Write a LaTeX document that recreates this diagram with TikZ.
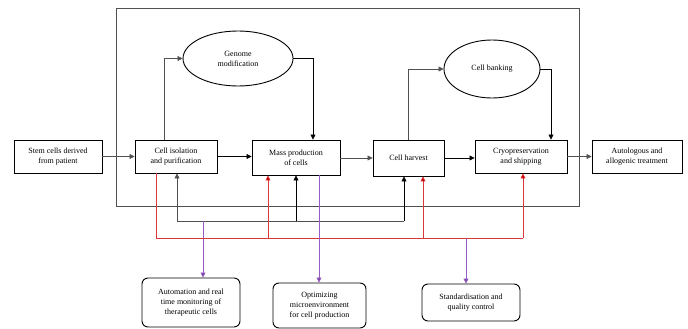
\documentclass[tikz,border=0pt]{standalone}
\usepackage{fontspec}
\setmainfont{Liberation Serif}
\usetikzlibrary{arrows.meta,shapes.geometric}
\definecolor{redln}{HTML}{D83838}
\definecolor{redtip}{HTML}{CC0000}
\definecolor{purln}{HTML}{9A5CC8}
\definecolor{grayln}{HTML}{505050}
\tikzset{
  tip/.style={-{Triangle[length=5pt,width=5pt]}},
  stepbox/.style={draw, line width=0.9pt, align=center, inner sep=1pt, font=\fontsize{8}{10}\selectfont},
  oval/.style={draw, ellipse, line width=0.9pt, align=center, inner sep=0pt, font=\fontsize{8}{10}\selectfont},
  goalbox/.style={draw, rounded corners=6pt, line width=0.9pt, align=center, inner sep=1pt, font=\fontsize{8}{10}\selectfont},
  conn/.style={line width=0.6pt, draw=black},
  gconn/.style={line width=0.6pt, draw=grayln},
  rconn/.style={line width=0.6pt, draw=redln},
  pconn/.style={line width=0.6pt, draw=purln},
}
\begin{document}
\begin{tikzpicture}[x=1pt,y=-1pt]
\useasboundingbox (0,0) rectangle (688,329);
% frame
\draw[line width=0.8pt, draw=grayln] (116,8) rectangle (579,206);
% main nodes
\node[stepbox, minimum width=88pt, minimum height=33pt] (stem) at (58,156.5) {Stem cells derived\\from patient};
\node[stepbox, minimum width=82pt, minimum height=33pt] (iso) at (176,156.5) {Cell isolation\\and purification};
\node[stepbox, minimum width=88pt, minimum height=35pt] (mass) at (296,157.5) {Mass production\\of cells};
\node[stepbox, minimum width=71pt, minimum height=36pt] (harv) at (408.5,158) {Cell harvest};
\node[stepbox, minimum width=92pt, minimum height=33pt] (cryo) at (521,156.5) {Cryopreservation\\and shipping};
\node[stepbox, minimum width=90pt, minimum height=33pt] (treat) at (637,156.5) {Autologous and\\allogenic treatment};
\node[oval, minimum width=110pt, minimum height=55pt] (gen) at (238,58.5) {Genome\\modification};
\node[oval, minimum width=96pt, minimum height=58pt] (bank) at (492,69) {Cell banking};
\node[goalbox, minimum width=98pt, minimum height=49pt] (autom) at (191,302.5) {Automation and real\\time monitoring of\\therapeutic cells};
\node[goalbox, minimum width=93pt, minimum height=45pt] (optim) at (319.5,305.5) {Optimizing\\microenvironment\\for cell production};
\node[goalbox, minimum width=98pt, minimum height=37pt] (stand) at (471,302.5) {Standardisation and\\quality control};
% main flow
\draw[gconn, tip] (stem.east) -- (iso.west);
\draw[conn, tip] (iso.east) -- (iso.east -| mass.west);
\draw[gconn, tip] (mass.east |- harv.west) -- (harv.west);
\draw[conn, tip] (harv.east) -- (harv.east -| cryo.west);
\draw[gconn, tip] (cryo.east) -- (treat.west);
% loops
\draw[gconn, tip] ([xshift=-12pt]iso.north) |- (gen.west);
\draw[conn, tip] (gen.east) -| ([xshift=17pt]mass.north);
\draw[gconn, tip] (harv.north) |- (bank.west);
\draw[conn, tip] (bank.east) -| ([xshift=30pt]cryo.north);
% gray feedback line
\coordinate (gL) at (177,221);
\coordinate (gR) at (404,221);
\coordinate (gP) at (203,221);
\coordinate (gM) at (296,221);
\draw[gconn, tip] (gL) -- (gL |- iso.south);
\draw[gconn] (gL) -- (gR);
\draw[conn, tip] (gR) -- (gR |- harv.south);
\draw[conn, tip] (gM) -- (gM |- mass.south);
\draw[pconn, -{Triangle[length=5pt,width=5pt,fill=purln!80!black]}] (gP) -- (gP |- autom.north);
% red line
\coordinate (rL) at (156,238);
\coordinate (rR) at (523,238);
\coordinate (rM) at (268,238);
\coordinate (rH) at (423,238);
\coordinate (rS) at (466,238);
\draw[rconn] (rL |- iso.south) -- (rL) -- (rR);
\draw[rconn, -{Triangle[length=5pt,width=5pt,fill=redtip]}] (rM) -- (rM |- mass.south);
\draw[rconn, -{Triangle[length=5pt,width=5pt,fill=redtip]}] (rH) -- (rH |- harv.south);
\draw[rconn, -{Triangle[length=5pt,width=5pt,fill=redtip]}] (rR) -- (rR |- cryo.south);
\draw[pconn, -{Triangle[length=5pt,width=5pt,fill=purln!80!black]}] ([xshift=23pt]mass.south) -- ([xshift=23pt]mass.south |- optim.north);
\draw[pconn, -{Triangle[length=5pt,width=5pt,fill=purln!80!black]}] (rS) -- (rS |- stand.north);
\end{tikzpicture}
\end{document}
